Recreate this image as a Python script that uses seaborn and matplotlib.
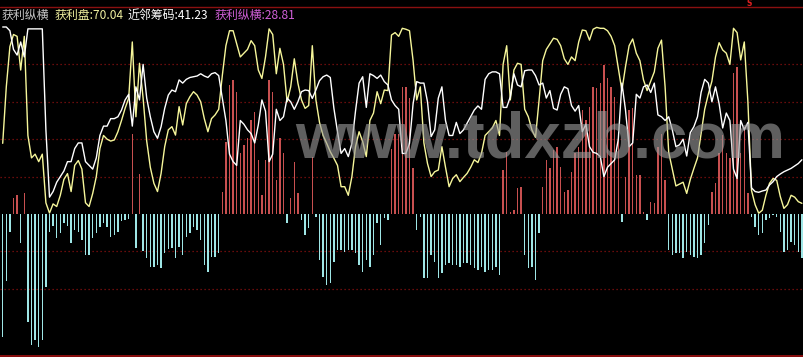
import numpy as np
import pandas as pd
import matplotlib
matplotlib.use("Agg")
import matplotlib.pyplot as plt
import seaborn as sns

sns.set_style("dark")
plt.rcParams['font.family'] = ['Noto Sans CJK SC', 'DejaVu Sans']

# ---------------- data ----------------
# 获利纵横 histogram (one value per bar, left to right)
bars = [
    -65.6, -36, -9.4, 8.4, 10, -15.7, 11.4, -57.6, -70, -67.4,
    -71, -67.4, -38.9, -9.4, -6.6, -13, -10.3, -4.6, -6.4, -15.7,
    -8.6, -9.4, -13.9, -21.9, -21.9, -13, -10.3, -6.8, -4.6, -6.8,
    -12.1, -11.2, -9.4, -3.6, -3.2, -2.9, 43, -18.4, 21.4, -20,
    -23.7, -28.2, -28.2, -27.3, -29, -21, -18.9, -18.4, -23.7, -17.5,
    -21.9, -12.1, -10.3, -6.8, -8.6, -13.9, -27.3, -30.8, -23.2, -23.2,
    -21, 11.9, 38.7, 69, 71.7, 65.4, 32.4, 36.9, 40.5, 50.3,
    54.7, 28.9, 10.2, 28.9, 71.7, 65.4, 18.2, 40.5, 32.4, -5,
    8.4, 28, 11, -3.2, -11.2, -7.7, 30.7, -1.4, -24.6, -33.5,
    -38, -37, -25.5, -19.3, -19.3, -20.1, -19.3, -19.3, -21, -27.3,
    -30.8, -24.6, -28.2, -21.9, -5, -16.6, -2.3, -3.2, 35, 43,
    43, 68, 68, 62, 24.4, -8.6, -1.4, -34.4, -34.4, -21.9,
    -25.5, -34.4, -31.7, -27.3, -26.4, -27.3, -27.3, -28.2, -26.4, -26.4,
    -27.3, -29, -30, -28.2, -30.8, -30, -30, -28.2, -32.6, 23.5,
    33.3, 1, 2, 13.7, 14.6, -21.9, -29, -28.2, -35.3, -10.3,
    14.6, 28.9, 24.4, 34, 36, 25.3, 12, 12.8, 22.6, 32.4,
    36, 55.6, 50.3, 57.4, 68, 67.2, 70, 79.7, 72.5, 68,
    62.7, 43, -4.1, 20, 55.6, 56.5, 20.9, 20.9, 1.2, -3.2,
    6.6, 5.7, 36, 43, 18.2, -19.3, -21.9, -21, -21, -23.7,
    -20.1, -21.9, -22.8, -23.7, -21.9, -15.7, -5.9, 12, 16.4, 32.4,
    42.2, 32.4, 29.8, 75.2, 78.8, 32.4, 46.7, 11, -1.4, -6.8,
    -11.2, -10.3, -3.2, -2.3, -0.5, -1.4, -9.4, -20.1, -19.3, -14.8,
    -16.6, -20.1, -23.7,
]

# 近邻筹码 (white line)
near_chips = [
    100, 100, 98, 88, 85, 92, 84, 99, 99, 99,
    99, 99, 45, 9, 12, 17, 20, 23, 28, 28,
    35, 38, 38, 28, 26, 24, 30, 42, 47, 47,
    51, 51, 52, 55.6, 61, 64, 47, 68, 61, 80,
    62, 52, 44, 40.5, 46.7, 56.5, 63.6, 66.3, 65.4, 71.7,
    70, 72, 73, 73.4, 73.8, 75, 73.8, 73, 75, 75.6,
    74, 62, 50, 32, 28, 26, 50, 48, 45, 43,
    38, 47.6, 61, 55, 28, 32, 56, 50, 52, 62,
    60, 56, 60, 65.4, 66.3, 66, 61.8, 66.3, 71.3, 73.4,
    74.3, 73, 56.5, 44, 32.4, 35, 30.7, 37.8, 55, 70,
    73.4, 57, 75, 74, 72.5, 74.3, 70.8, 69, 61, 58,
    56, 32.4, 32.4, 37.8, 59, 70.8, 70, 70, 60, 41.4,
    45, 62, 68, 50, 42, 42, 49, 43, 45, 48.5,
    52, 55.6, 57.8, 56, 72, 75, 76, 76, 75, 57,
    57, 62.7, 75, 69, 68, 76.6, 77, 77, 74, 69,
    70, 62, 66, 56.5, 55.6, 64, 68, 67, 58, 55,
    58, 44, 48, 36, 33, 32.4, 30.7, 20, 25, 27,
    29, 40, 70, 55.6, 36, 38, 64, 62, 68, 69,
    65, 70, 53, 52, 50, 52, 45, 36, 37, 40,
    31, 43.5, 46.7, 52, 65, 72, 70, 60, 68, 59,
    46, 54, 50, 24, 19, 50, 45, 49, 14, 12,
    11.6, 12.3, 12.8, 15.5, 17.3, 20, 21.4, 22.6, 23.5, 24.4,
    25.7, 27, 29,
]

# 获利盘 (yellow line)
profit = [
    37.8, 68, 89.5, 96, 95, 77, 95, 42, 30, 32,
    28, 32, 6, 0.5, 5.4, 4, 10, 18.5, 21.6, 12,
    26, 28.6, 24, 6, 4, 11, 20, 35, 42, 40,
    39, 39.6, 44, 50, 56.5, 62, 92, 52, 80.6, 62,
    39, 25, 16.4, 12, 21.7, 36, 45, 46.7, 42.2, 57.4,
    47.6, 59, 62.7, 65.4, 63.6, 60, 51, 44, 51, 53,
    56, 74, 90, 98, 98, 91, 84, 86, 88, 92.7,
    90, 77, 72.5, 84, 99, 96, 75, 88.6, 80, 60,
    68, 83, 70, 61, 56.5, 58, 90, 61, 49, 42,
    37.8, 33.3, 29.8, 26, 14.6, 14.6, 10, 20, 36, 44,
    38.7, 30.7, 50, 54, 65.4, 59, 66.3, 66, 95.7, 97,
    95, 99.3, 98.8, 98, 82, 61, 68, 38, 27, 20,
    22.6, 23.5, 36, 25, 14.6, 19, 21, 17.3, 19.6, 21.7,
    25, 29, 27.5, 32.4, 42, 44, 46, 50, 42, 80,
    90, 61, 77, 80.6, 80, 56, 52, 45, 41, 61,
    82, 88, 91, 94, 93.4, 90, 83, 80, 84, 82,
    92, 98.4, 98, 93, 98.8, 99.8, 99.3, 99.3, 98, 95,
    90, 78, 66, 78.8, 90, 93.6, 86, 82, 71.7, 66,
    71, 76, 88.6, 93, 68, 33, 24, 15, 16, 17,
    11, 18.5, 24.4, 30, 43, 56, 64, 71, 84, 91.6,
    87.7, 86, 80, 99.3, 97, 82.4, 92, 60, 12.6, 5,
    0.4, 2, 10, 16.4, 19, 18, 9.3, 3, 5, 10,
    9, 6.6, 5.7,
]

grid_levels = [80, 60, 40, 20, -20, -40]
title_parts = [("获利纵横", "#c8c8c8"), ("获利盘:70.04", "#f0f0a0"),
               ("近邻筹码:41.23", "#ffffff"), ("获利纵横:28.81", "#d060d8")]
watermark = "www.tdxzb.com"

# ---------------- figure ----------------
W, H = 804, 357
fig = plt.figure(figsize=(W / 100, H / 100), dpi=100, facecolor="black")
ax = fig.add_axes([0, 0, 1, 1])
ax.set_facecolor("black")

idx = np.arange(len(bars))
df = pd.DataFrame({"i": idx, "v": bars,
                   "sign": np.where(np.array(bars) >= 0, "pos", "neg")})
lines = pd.DataFrame({"i": idx, "white": near_chips, "yellow": profit})

# pixel geometry: value 0 at y=214px, 1.87 px per unit; bar i at x=2.7+3.6*i px
px_per_unit = 1.87
y0 = 214.0
ymin = (y0 - H) / px_per_unit
ymax = y0 / px_per_unit
xmin = (0 - 2.7) / 3.6
xmax = (W - 2.7) / 3.6

for lv in grid_levels:
    ax.axhline(lv, color="#8a1010", lw=0.9, ls=(0, (1, 2.2)), zorder=1)

sns.barplot(data=df, x="i", y="v", hue="sign",
            palette={"pos": "#c85050", "neg": "#9ee6e6"},
            native_scale=True, width=0.36, dodge=False, legend=False,
            errorbar=None, saturation=1, linewidth=0, ax=ax, zorder=2)

sns.lineplot(data=lines, x="i", y="white", color="#ffffff", lw=1.0, ax=ax, zorder=4)
sns.lineplot(data=lines, x="i", y="yellow", color="#f6f69a", lw=1.0, ax=ax, zorder=3)

# frame lines
ax.axhline((y0 - 355.5) / px_per_unit, color="#a01010", lw=1.2, zorder=5)
ax.axhline((y0 - 7) / px_per_unit, color="#8a1010", lw=1.0, zorder=5)

ax.set_xlim(xmin, xmax)
ax.set_ylim(ymin, ymax)
ax.axis("off")

# title
xs = [1.5, 55, 128, 215]
for (txt, col), x in zip(title_parts, xs):
    fig.text(x / W, 1 - 15 / H, txt, color=col, fontsize=8.6,
             va="center", ha="left")

fig.text(747 / W, 1 - 4 / H, "S", color="#e02020", fontsize=5.5,
         fontweight="bold", va="center", ha="left",
         family=["DejaVu Sans"])

# watermark
fig.text(295 / W, 1 - 157 / H, watermark, color="#9a9a9a", alpha=0.62,
         fontsize=47, fontweight="bold", va="baseline", ha="left",
         family=["Liberation Sans", "DejaVu Sans"], zorder=10)

fig.savefig("out.png", dpi=100, facecolor="black")
